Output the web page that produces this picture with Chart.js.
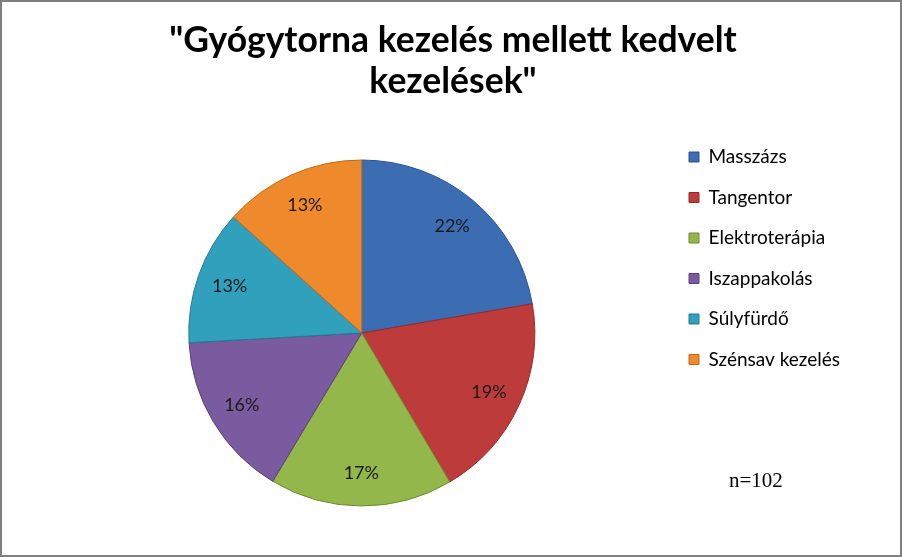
<!DOCTYPE html>
<html>
<head>
<meta charset="utf-8">
<script src="https://cdn.jsdelivr.net/npm/chart.js@4/dist/chart.umd.min.js"></script>
<style>
  html, body { margin: 0; padding: 0; background: #fff; }
  #box { width: 902px; height: 557px; }
</style>
</head>
<body>
<div id="box"><canvas id="pie_chart"></canvas></div>
<script>
// chart data
const categories = ['Masszázs', 'Tangentor', 'Elektroterápia', 'Iszappakolás', 'Súlyfürdő', 'Szénsav kezelés'];
const shares = [22.3, 19.2, 17.1, 15.5, 12.6, 13.3];
const colors = ['#3c6db2', '#be3b3c', '#93b74b', '#7b5ba0', '#31a0bd', '#ee8a2c'];
const edges = ['#2c5390', '#952b2c', '#6f8c33', '#5b437a', '#237a91', '#bd6a1c'];
const titleLines = ['"Gyógytorna kezelés mellett kedvelt', 'kezelések"'];
const note = 'n=102';

// frame + white background
const framePlugin = {
  id: 'frame',
  beforeDraw: function(chart) {
    const c = chart.ctx;
    c.save();
    c.fillStyle = '#fff';
    c.fillRect(0, 0, chart.width, chart.height);
    c.strokeStyle = '#7f7f7f';
    c.lineWidth = 2;
    c.strokeRect(1, 1, chart.width - 2, chart.height - 2);
    c.restore();
  },
  afterDraw: function(chart) {
    const c = chart.ctx;
    c.save();
    c.fillStyle = '#000';
    c.font = '21px "Liberation Serif"';
    c.textBaseline = 'alphabetic';
    c.fillText(note, 729, 487);
    c.restore();
  }
};

// percent labels inside the slices
const pctLabels = {
  id: 'pctLabels',
  afterDatasetsDraw: function(chart) {
    const c = chart.ctx;
    const meta = chart.getDatasetMeta(0);
    const vals = chart.data.datasets[0].data;
    const total = vals.reduce(function(a, b) { return a + b; }, 0);
    c.save();
    c.font = '18px Lato';
    c.fillStyle = '#1a1a1a';
    c.textAlign = 'center';
    c.textBaseline = 'middle';
    meta.data.forEach(function(arc, i) {
      const p = arc.getProps(['x', 'y', 'startAngle', 'endAngle', 'outerRadius'], true);
      const mid = (p.startAngle + p.endAngle) / 2;
      const r = p.outerRadius * 0.81;
      c.fillText(Math.round(vals[i] / total * 100) + '%', p.x + Math.cos(mid) * r, p.y + Math.sin(mid) * r);
    });
    c.restore();
  }
};

function createChart() {
  const ctx = document.getElementById('pie_chart');
  const data = {
    labels: categories,
    datasets: [{
      data: shares,
      backgroundColor: colors,
      borderColor: edges,
      borderWidth: 1
    }]
  };
  const option = {
    responsive: true,
    maintainAspectRatio: false,
    animation: false,
    radius: 173,
    layout: {
      padding: { left: 56, right: 52, top: 0, bottom: 17 }
    },
    plugins: {
      legend: {
        position: 'right',
        align: 'start',
        fullSize: false,
        labels: {
          boxWidth: 10,
          boxHeight: 10,
          padding: 21.5,
          color: '#000',
          font: { family: 'Lato', size: 19 }
        }
      },
      title: {
        display: true,
        text: titleLines,
        color: '#000',
        font: { family: 'Lato', size: 35.5, weight: 'bold', lineHeight: '41px' },
        padding: { top: 20, bottom: 24 }
      },
      tooltip: { enabled: false }
    }
  };
  new Chart(ctx, {
    type: 'pie',
    data: data,
    options: option,
    plugins: [framePlugin, pctLabels]
  });
}

createChart();
</script>
</body>
</html>
